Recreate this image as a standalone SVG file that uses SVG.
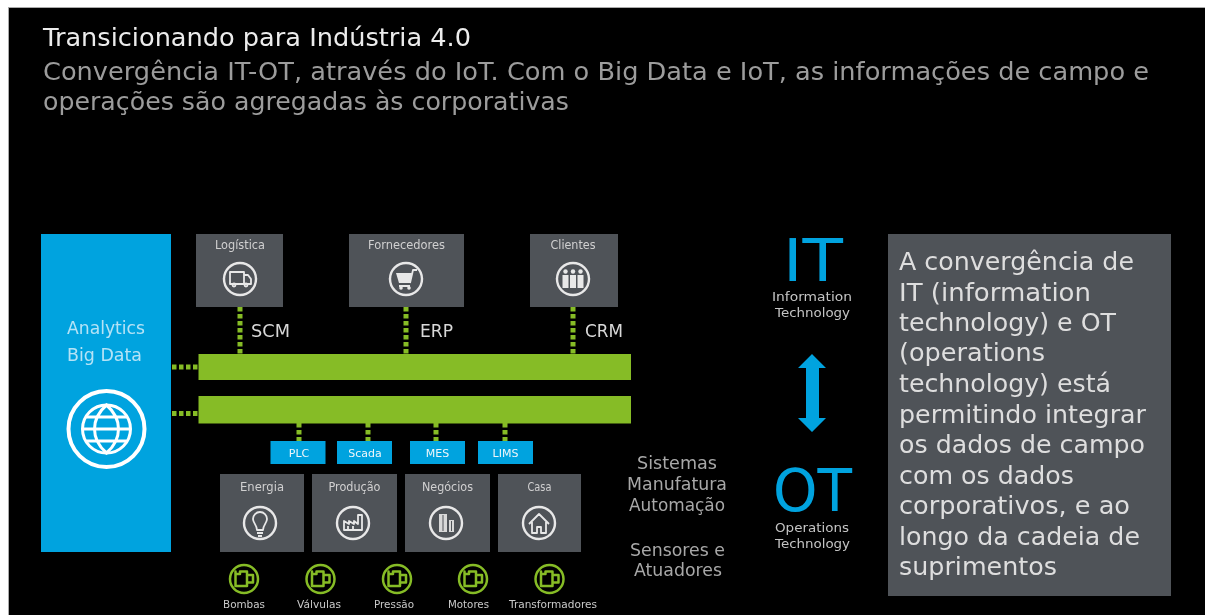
<svg xmlns="http://www.w3.org/2000/svg" width="1205" height="615" viewBox="0 0 1205 615">
<style>
text{font-family:"DejaVu Sans","Liberation Sans",sans-serif;}
.ttl{font-size:24.5px;fill:#ececec;}
.sub{font-size:25px;fill:#9c9c9c;}
.big{font-size:25px;fill:#dedede;}
.box{fill:#505359;}
.lab{font-size:11.5px;fill:#d0d0d0;text-anchor:middle;}
.small{font-size:10.5px;fill:#c9c9c9;text-anchor:middle;}
.tag{font-size:11px;fill:#eef6fa;text-anchor:middle;}
.sys{font-size:17px;fill:#a8a8a8;text-anchor:middle;}
.pro{font-size:18px;fill:#d8d8d8;}
.desc{font-size:13px;fill:#c4c4c4;text-anchor:middle;}
.blue{fill:#00a3df;}
.green{fill:#86bc25;}
.dot{stroke:#86bc25;stroke-width:5;stroke-dasharray:4.500 2.500;fill:none;}
.ic{fill:none;stroke:#e8e8e8;stroke-width:1.800;stroke-linejoin:round;}
.ring{fill:none;stroke:#e8e8e8;stroke-width:2.400;}
.mug{fill:none;stroke:#86bc25;stroke-width:2.500;stroke-linejoin:round;}
</style>
<defs>
<filter id="soft" x="0" y="0" width="100%" height="100%"><feGaussianBlur stdDeviation="0.5"/></filter>
<g id="i-mug"><circle class="mug" r="14"/><path class="mug" d="M-8.500-7.500V-5H-4V-7.500H3V7H-8.500ZM3-4H9V3.500H3"/></g>
</defs>
<rect width="1205" height="615" fill="#fff"/>
<rect x="8.500" y="7.500" width="1197" height="608" fill="#000" stroke="#aaa"/>
<g filter="url(#soft)">
<g id="title">
<text class="ttl" x="43" y="46" textLength="428" lengthAdjust="spacingAndGlyphs">Transicionando para Indústria 4.0</text>
<text class="sub" x="43" y="80" textLength="1106" lengthAdjust="spacingAndGlyphs">Convergência IT-OT, através do IoT. Com o Big Data e IoT, as informações de campo e</text>
<text class="sub" x="43" y="110" textLength="526" lengthAdjust="spacingAndGlyphs">operações são agregadas às corporativas</text>
</g>
<g id="connectors">
<path class="dot" d="M240 307V354M406 307V354M573 307V354M172 367H198M172 413.500H198M299 423V441M368 423V441M436 423V441M505 423V441"/>
</g>
<g id="analytics">
<rect class="blue" x="41" y="234" width="130" height="318"/>
<text x="106" y="334" font-size="17.500" fill="#b5e3f6" text-anchor="middle" textLength="78" lengthAdjust="spacingAndGlyphs">Analytics</text>
<text x="104.500" y="361" font-size="17.500" fill="#b5e3f6" text-anchor="middle" textLength="75" lengthAdjust="spacingAndGlyphs">Big Data</text>
<g fill="none" stroke="#fff" transform="translate(106.500 429)">
<circle r="38" stroke-width="4"/>
<circle r="24" stroke-width="3"/>
<path stroke-width="3" d="M0-24C-16-10-16 10 0 24C16 10 16-10 0-24ZM-24 0H24M-20-12H20M-20 12H20"/>
</g>
</g>
<g id="bar-top"><rect class="green" x="198.500" y="354" width="432.500" height="26"/></g>
<g id="bar-bottom"><rect class="green" x="198.500" y="396" width="432.500" height="27.500"/></g>
<g id="logistica">
<rect class="box" x="196" y="234" width="87" height="73"/>
<text class="lab" x="240" y="249" textLength="50" lengthAdjust="spacingAndGlyphs">Logística</text>
<circle class="ring" cx="240" cy="279" r="16"/>
<path class="ic" d="M230 272H244V284H230ZM244 275H248L251 279V284H244"/><circle class="ic" cx="234" cy="285" r="1.500"/><circle class="ic" cx="246" cy="285" r="1.500"/>
</g>
<g id="fornecedores">
<rect class="box" x="349" y="234" width="115" height="73"/>
<text class="lab" x="406.500" y="249" textLength="77" lengthAdjust="spacingAndGlyphs">Fornecedores</text>
<circle class="ring" cx="406" cy="279" r="16"/>
<path d="M396 273H412L410 283H399Z" fill="#e8e8e8"/><path class="ic" d="M410 283L413 270H417M399 286H410"/><circle cx="401" cy="288" r="1.800" fill="#e8e8e8"/><circle cx="409" cy="288" r="1.800" fill="#e8e8e8"/>
</g>
<g id="clientes">
<rect class="box" x="530" y="234" width="88" height="73"/>
<text class="lab" x="573" y="249" textLength="45" lengthAdjust="spacingAndGlyphs">Clientes</text>
<circle class="ring" cx="573" cy="279" r="16"/>
<g fill="#e8e8e8"><circle cx="565.500" cy="271.500" r="2.200"/><circle cx="573" cy="271.500" r="2.200"/><circle cx="580.500" cy="271.500" r="2.200"/><path d="M562.500 275H568.500V288H562.500ZM570 275H576V288H570ZM577.500 275H583.500V288H577.500Z"/></g>
</g>
<g id="scm"><text class="pro" x="251" y="337" textLength="39" lengthAdjust="spacingAndGlyphs">SCM</text></g>
<g id="erp"><text class="pro" x="420" y="337" textLength="33" lengthAdjust="spacingAndGlyphs">ERP</text></g>
<g id="crm"><text class="pro" x="585" y="337" textLength="38" lengthAdjust="spacingAndGlyphs">CRM</text></g>
<g id="plc"><rect class="blue" x="270.500" y="441" width="55" height="23"/><text class="tag" x="299" y="456.500">PLC</text></g>
<g id="scada"><rect class="blue" x="337" y="441" width="55" height="23"/><text class="tag" x="365" y="456.500">Scada</text></g>
<g id="mes"><rect class="blue" x="410" y="441" width="55" height="23"/><text class="tag" x="437.500" y="456.500">MES</text></g>
<g id="lims"><rect class="blue" x="478" y="441" width="55" height="23"/><text class="tag" x="505.500" y="456.500">LIMS</text></g>
<g id="energia">
<rect class="box" x="220" y="474" width="84" height="78"/>
<text class="lab" x="262" y="491" textLength="44" lengthAdjust="spacingAndGlyphs">Energia</text>
<circle class="ring" cx="260" cy="523" r="16"/>
<path class="ic" d="M257 530C257 525 253 523 253 519A7 7 0 0 1 267 519C267 523 263 525 263 530ZM257 533H263M258 536H262"/>
</g>
<g id="producao">
<rect class="box" x="312" y="474" width="85" height="78"/>
<text class="lab" x="354.500" y="491" textLength="52" lengthAdjust="spacingAndGlyphs">Produção</text>
<circle class="ring" cx="353" cy="523" r="16"/>
<path class="ic" d="M344 530V521L349 524V521L354 524V521L358 524V515H362V530ZM348 526V529M353 526V529"/>
</g>
<g id="negocios">
<rect class="box" x="405" y="474" width="85" height="78"/>
<text class="lab" x="447.500" y="491" textLength="51" lengthAdjust="spacingAndGlyphs">Negócios</text>
<circle class="ring" cx="446" cy="523" r="16"/>
<path d="M439 514H447V532H439ZM449 520H454V532H449Z" fill="#d8d8d8"/><path stroke="#505359" stroke-width="1" d="M443 515V531M451.500 521V531"/>
</g>
<g id="casa">
<rect class="box" x="498" y="474" width="83" height="78"/>
<text class="lab" x="539.500" y="491" textLength="24" lengthAdjust="spacingAndGlyphs">Casa</text>
<circle class="ring" cx="539" cy="523" r="16"/>
<path class="ic" d="M529 524L539 514L549 524M532 522V533H537V527H541V533H546V522"/>
</g>
<g id="bombas"><use href="#i-mug" x="244" y="579"/><text class="small" x="244" y="608" textLength="42" lengthAdjust="spacingAndGlyphs">Bombas</text></g>
<g id="valvulas"><use href="#i-mug" x="320.500" y="579"/><text class="small" x="319" y="608" textLength="44" lengthAdjust="spacingAndGlyphs">Válvulas</text></g>
<g id="pressao"><use href="#i-mug" x="397" y="579"/><text class="small" x="394" y="608" textLength="40" lengthAdjust="spacingAndGlyphs">Pressão</text></g>
<g id="motores"><use href="#i-mug" x="473" y="579"/><text class="small" x="468.500" y="608" textLength="41" lengthAdjust="spacingAndGlyphs">Motores</text></g>
<g id="transformadores"><use href="#i-mug" x="549.500" y="579"/><text class="small" x="553" y="608" textLength="88" lengthAdjust="spacingAndGlyphs">Transformadores</text></g>
<g id="sistemas">
<text class="sys" x="677" y="469" textLength="80" lengthAdjust="spacingAndGlyphs">Sistemas</text>
<text class="sys" x="677" y="490" textLength="100" lengthAdjust="spacingAndGlyphs">Manufatura</text>
<text class="sys" x="677" y="511" textLength="96" lengthAdjust="spacingAndGlyphs">Automação</text>
</g>
<g id="sensores">
<text class="sys" x="677.500" y="556" textLength="95" lengthAdjust="spacingAndGlyphs">Sensores e</text>
<text class="sys" x="678" y="576" textLength="88" lengthAdjust="spacingAndGlyphs">Atuadores</text>
</g>
<g id="it">
<text x="813" y="281" font-family="Liberation Mono" font-size="58" fill="#00a3df" text-anchor="middle" textLength="60" lengthAdjust="spacingAndGlyphs">IT</text>
<text class="desc" x="812" y="301" textLength="80" lengthAdjust="spacingAndGlyphs">Information</text>
<text class="desc" x="812.500" y="317" textLength="75" lengthAdjust="spacingAndGlyphs">Technology</text>
</g>
<g id="arrow"><path class="blue" d="M812 354L826 368H819V418H826L812 432L798 418H806V368H798Z"/></g>
<g id="ot">
<text x="812.500" y="511" font-family="Open Sans" font-size="58" fill="#00a3df" text-anchor="middle" textLength="79" lengthAdjust="spacingAndGlyphs">OT</text>
<text class="desc" x="812" y="532" textLength="74" lengthAdjust="spacingAndGlyphs">Operations</text>
<text class="desc" x="812.500" y="548" textLength="75" lengthAdjust="spacingAndGlyphs">Technology</text>
</g>
<g id="panel">
<rect class="box" x="888" y="234" width="283" height="362"/>
<text class="big" x="899" y="270" textLength="235" lengthAdjust="spacingAndGlyphs">A convergência de</text>
<text class="big" x="899" y="301" textLength="192" lengthAdjust="spacingAndGlyphs">IT (information</text>
<text class="big" x="899" y="331" textLength="217" lengthAdjust="spacingAndGlyphs">technology) e OT</text>
<text class="big" x="899" y="361" textLength="146" lengthAdjust="spacingAndGlyphs">(operations</text>
<text class="big" x="899" y="392" textLength="212" lengthAdjust="spacingAndGlyphs">technology) está</text>
<text class="big" x="899" y="423" textLength="247" lengthAdjust="spacingAndGlyphs">permitindo integrar</text>
<text class="big" x="899" y="453" textLength="246" lengthAdjust="spacingAndGlyphs">os dados de campo</text>
<text class="big" x="899" y="484" textLength="175" lengthAdjust="spacingAndGlyphs">com os dados</text>
<text class="big" x="899" y="514" textLength="231" lengthAdjust="spacingAndGlyphs">corporativos, e ao</text>
<text class="big" x="899" y="545" textLength="241" lengthAdjust="spacingAndGlyphs">longo da cadeia de</text>
<text class="big" x="899" y="575" textLength="158" lengthAdjust="spacingAndGlyphs">suprimentos</text>
</g>
</g>
</svg>
